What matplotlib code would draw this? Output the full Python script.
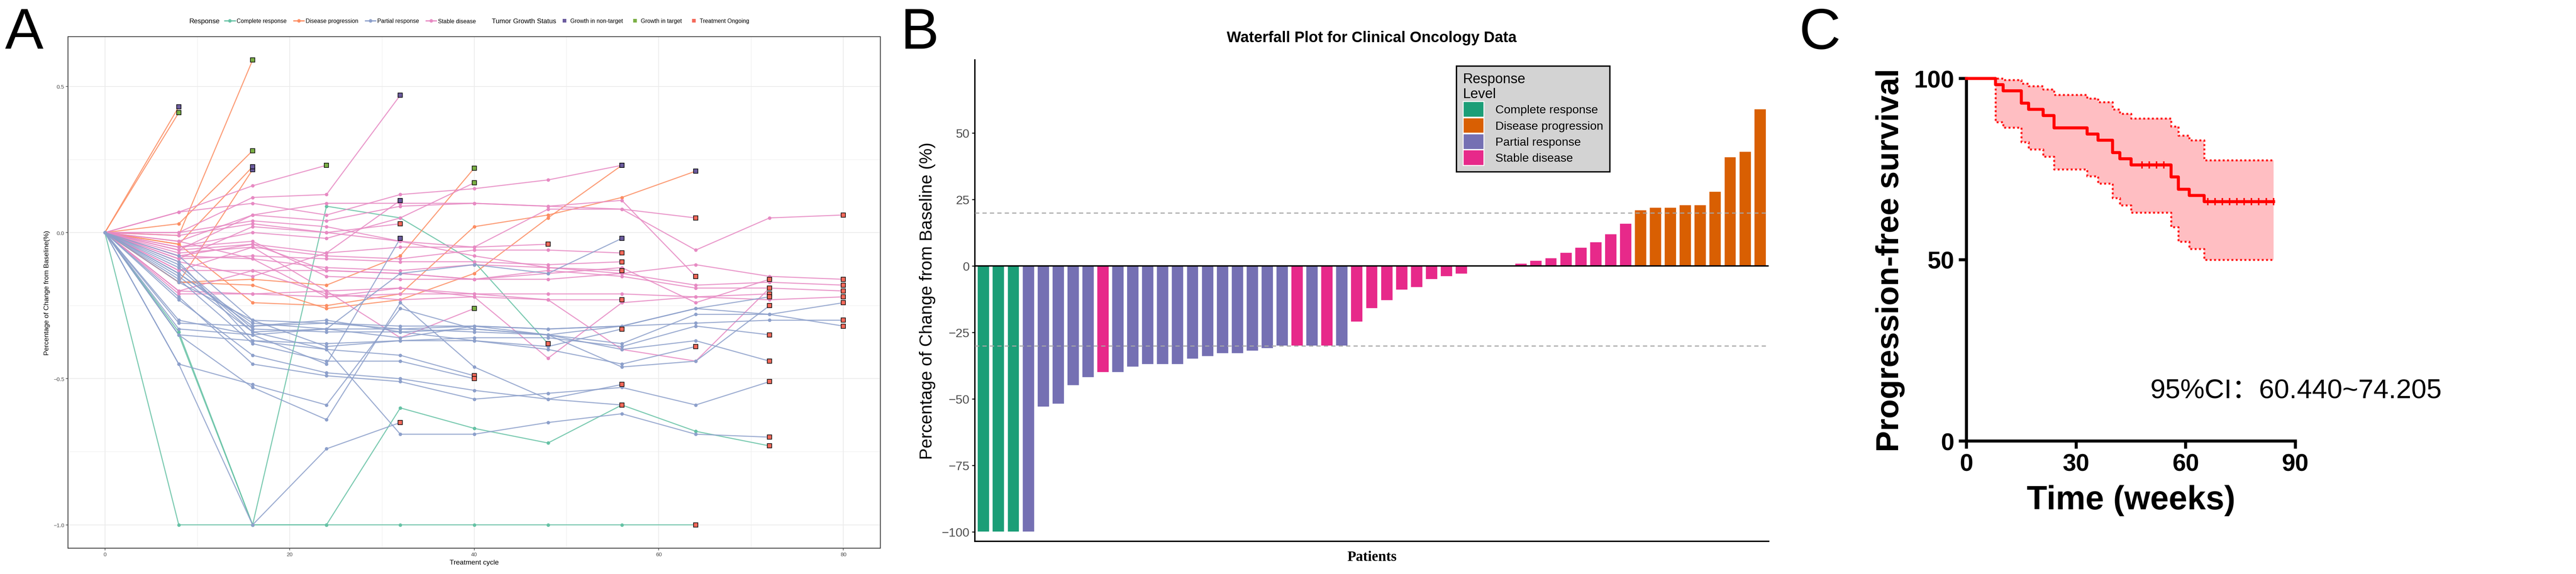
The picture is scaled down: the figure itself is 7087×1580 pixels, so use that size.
import matplotlib.pyplot as plt
from matplotlib.lines import Line2D
from matplotlib.patches import Patch
import numpy as np

plt.rcParams['font.family'] = ['Liberation Sans', 'DejaVu Sans']

# ---------------- Panel A: spider plot data ----------------
cycle_step = 8  # weeks between assessments
spider_response = ['CR', 'CR', 'CR',
                   'PD', 'PD', 'PD', 'PD', 'PD', 'PD', 'PD', 'PD', 'PD',
                   'SD', 'SD', 'SD', 'SD', 'SD', 'SD', 'SD', 'SD', 'SD', 'SD', 'SD',
                   'SD', 'SD', 'SD', 'SD', 'SD', 'SD', 'SD', 'SD', 'SD', 'SD', 'SD',
                   'PR', 'PR', 'PR', 'PR', 'PR', 'PR', 'PR', 'PR', 'PR', 'PR', 'PR',
                   'PR', 'PR', 'PR', 'PR', 'PR', 'PR', 'PR']
spider_status = ['TO', 'TO', 'TO',
                 'NT', 'T', 'T', 'T', 'NT', 'NT', 'T', 'NT', 'NT',
                 'NT', 'T', 'NT', 'TO', 'T', 'T', 'TO', 'NT', 'TO', 'TO', 'TO',
                 'TO', 'TO', 'TO', 'TO', 'TO', 'TO', 'TO', 'TO', 'TO', 'TO', 'TO',
                 'TO', 'TO', 'TO', 'TO', 'TO', 'TO', 'NT', 'NT', 'TO', 'TO', 'TO',
                 'TO', 'TO', 'TO', 'TO', 'TO', 'TO', 'TO']
spider_values = [
    [0, -1.0, -1.0, -1.0, -1.0, -1.0, -1.0, -1.0, -1.0],
    [0, -0.35, -1.0, 0.09, 0.05, -0.10, -0.38],
    [0, -0.34, -1.0, -1.0, -0.60, -0.67, -0.72, -0.59, -0.68, -0.73],
    [0, 0.43],
    [0, 0.41],
    [0, -0.01, 0.59],
    [0, 0.03, 0.28],
    [0, -0.17, 0.215],
    [0, -0.04, 0.225],
    [0, -0.17, -0.16, -0.18, -0.08, 0.22],
    [0, -0.04, -0.24, -0.25, -0.21, 0.02, 0.06, 0.12, 0.21],
    [0, -0.17, -0.18, -0.26, -0.23, -0.14, 0.05, 0.23],
    [0, 0.0, 0.12, 0.13, 0.47],
    [0, 0.07, 0.16, 0.23],
    [0, -0.10, -0.15, -0.07, 0.11],
    [0, -0.01, 0.03, 0.0, 0.03],
    [0, -0.05, 0.0, -0.02, 0.05, 0.17],
    [0, -0.13, -0.05, -0.20, -0.36, -0.26],
    [0, -0.06, -0.04, -0.07, -0.05, -0.05, -0.04],
    [0, 0.07, 0.10, 0.06, 0.13, 0.15, 0.18, 0.23],
    [0, -0.03, 0.06, 0.04, 0.09, 0.10, 0.09, 0.08, -0.06, 0.05, 0.06],
    [0, 0.0, 0.04, 0.02, -0.03, -0.05, 0.08, 0.08, 0.05],
    [0, -0.06, 0.06, 0.10, 0.10, 0.10, 0.09, 0.11, -0.15],
    [0, -0.07, -0.05, -0.08, -0.09, -0.06, -0.06, -0.07],
    [0, -0.09, -0.08, -0.09, -0.10, -0.10, -0.11, -0.10],
    [0, -0.03, -0.09, -0.12, -0.13, -0.11, -0.12, -0.13],
    [0, -0.13, -0.13, -0.13, -0.14, -0.16, -0.16, -0.14, -0.11, -0.15, -0.16],
    [0, -0.20, -0.21, -0.20, -0.19, -0.21, -0.21, -0.21, -0.22, -0.23, -0.22],
    [0, -0.21, -0.21, -0.22, -0.19, -0.22, -0.23, -0.23],
    [0, -0.09, 0.02, 0.0, -0.03, -0.08, -0.12, -0.14, -0.18, -0.17, -0.18],
    [0, -0.08, -0.04, -0.13, -0.14, -0.16, -0.13, -0.15, -0.19, -0.19, -0.20],
    [0, -0.20, -0.13, -0.21, -0.23, -0.22, -0.43, -0.24, -0.22, -0.21],
    [0, -0.08, -0.09, -0.22, -0.21, -0.21, -0.23, -0.40, -0.44, -0.19],
    [0, -0.05, -0.03, -0.15, -0.16, -0.16, -0.14, -0.12, -0.24, -0.16],
    [0, -0.45, -1.0, -0.74, -0.65],
    [0, -0.45, -0.52, -0.59, -0.26, -0.33, -0.35, -0.32, -0.26, -0.28, -0.24],
    [0, -0.35, -0.53, -0.64, -0.24, -0.46, -0.57, -0.52],
    [0, -0.31, -0.32, -0.31, -0.32, -0.32, -0.33, -0.32, -0.31, -0.30, -0.30],
    [0, -0.33, -0.35, -0.33, -0.33, -0.34, -0.35, -0.38, -0.28, -0.28, -0.32],
    [0, -0.35, -0.37, -0.38, -0.37, -0.36, -0.36, -0.39, -0.32, -0.35],
    [0, -0.30, -0.35, -0.45, -0.02],
    [0, -0.14, -0.31, -0.33, -0.14, -0.11, -0.14, -0.02],
    [0, -0.15, -0.34, -0.40, -0.42, -0.49],
    [0, -0.16, -0.38, -0.44, -0.44, -0.50],
    [0, -0.17, -0.30, -0.39, -0.37, -0.37, -0.39, -0.33],
    [0, -0.23, -0.42, -0.48, -0.50, -0.54, -0.57, -0.59],
    [0, -0.22, -0.45, -0.49, -0.51, -0.57, -0.55, -0.53, -0.59, -0.51],
    [0, -0.11, -0.33, -0.34, -0.34, -0.33, -0.35, -0.40, -0.37, -0.44],
    [0, -0.10, -0.37, -0.40, -0.69, -0.69, -0.65, -0.62, -0.69, -0.70],
    [0, -0.14, -0.32, -0.30, -0.34, -0.37, -0.40, -0.45, -0.39],
    [0, -0.08, -0.30, -0.31, -0.33, -0.32, -0.35, -0.46, -0.44, -0.25],
    [0, -0.12, -0.34, -0.33, -0.36, -0.32, -0.33, -0.32, -0.26, -0.22],
]

# ---------------- Panel B: waterfall data ----------------
wf_values = [-100, -100, -100, -100, -53, -52, -45, -42, -40, -40,
             -38, -37, -37, -37, -35, -34, -33, -33, -32, -31,
             -30, -30, -30, -30, -30, -21, -16, -13, -9, -8,
             -5, -4, -3, 0, 0, 0, 1, 2, 3, 5,
             7, 9, 12, 16, 21, 22, 22, 23, 23, 28,
             41, 43, 59]
wf_response = ['CR'] * 3 + ['PR'] * 5 + ['SD'] + ['PR'] * 12 + ['SD', 'PR', 'SD', 'PR'] + ['SD'] * 19 + ['PD'] * 9

# ---------------- Panel C: Kaplan-Meier data ----------------
km_time = [0, 8, 10, 15, 17, 21, 24, 33, 36, 40, 42, 45, 56, 58, 61, 65, 84]
km_surv = [100, 98.3, 96.6, 93.2, 91.5, 89.8, 86.4, 84.7, 83.0, 79.6, 77.9, 76.2, 72.8, 69.4, 67.7, 66.0, 66.0]
km_upper = [100, 100, 99.6, 98.6, 97.9, 97.0, 95.5, 94.5, 93.5, 91.5, 90.3, 89.0, 86.8, 84.3, 83.0, 77.5, 77.5]
km_lower = [100, 88.0, 86.5, 82.5, 80.5, 78.5, 75.0, 73.0, 71.0, 67.0, 65.0, 63.0, 59.0, 55.0, 53.0, 50.0, 50.0]
censor_time = [48, 50, 52, 54, 66, 68, 70, 72, 74, 76, 78, 80, 82, 84]
censor_surv = [76.2] * 4 + [66.0] * 10

resp_labels = {'CR': 'Complete response', 'PD': 'Disease progression',
               'PR': 'Partial response', 'SD': 'Stable disease'}
resp_order = ['CR', 'PD', 'PR', 'SD']
set2 = {'CR': '#66C2A5', 'PD': '#FC8D62', 'PR': '#8DA0CB', 'SD': '#E78AC3'}
dark2 = {'CR': '#1B9E77', 'PD': '#D95F02', 'PR': '#7570B3', 'SD': '#E7298A'}
status_labels = {'NT': 'Growth in non-target', 'T': 'Growth in target', 'TO': 'Treatment Ongoing'}
status_col = {'NT': '#6B5B9E', 'T': '#7BAF45', 'TO': '#F4695A'}

W, H = 7087, 1581
fig = plt.figure(figsize=(W / 300, H / 300), dpi=300)


def rect(left, top, right, bottom):
    return [left / W, 1 - bottom / H, (right - left) / W, (bottom - top) / H]


# ================= Panel A =================
axA = fig.add_axes(rect(187, 102, 2422, 1510))
for resp, vals, status in zip(spider_response, spider_values, spider_status):
    t = np.arange(len(vals)) * cycle_step
    axA.plot(t, vals, color=set2[resp], lw=0.7, alpha=0.85, zorder=2)
    axA.plot(t, vals, 'o', ms=2.3, color=set2[resp], mec='none', zorder=3)
    axA.plot(t[-1], vals[-1], 's', ms=2.8, mfc=status_col[status], mec='black', mew=0.4, zorder=4)

axA.set_xlim(-4, 84)
axA.set_ylim(-1.08, 0.67)
axA.set_xticks([0, 20, 40, 60, 80])
axA.set_xticks([10, 30, 50, 70], minor=True)
axA.set_yticks([-1.0, -0.5, 0.0, 0.5])
axA.set_yticklabels(['\u22121.0', '\u22120.5', '0.0', '0.5'])
axA.set_yticks([-0.75, -0.25, 0.25], minor=True)
axA.grid(which='major', color='#EBEBEB', lw=0.5)
axA.grid(which='minor', color='#EBEBEB', lw=0.25)
axA.set_axisbelow(True)
axA.tick_params(which='major', labelsize=3.6, colors='#4D4D4D', length=1.5, width=0.4, pad=1)
axA.tick_params(which='minor', length=0)
for s in axA.spines.values():
    s.set_color('#333333')
    s.set_linewidth(0.5)
axA.set_xlabel('Treatment cycle', fontsize=4.6, labelpad=1.5)
axA.set_ylabel('Percentage of Change from Baseline(%)', fontsize=4.6, labelpad=2)

# legend of panel A (top, horizontal)
fig.text(520 / W, 1 - 59 / H, 'Response', fontsize=4.5, va='center', ha='left')
resp_handles = [Line2D([], [], color=set2[r], lw=0.8, marker='o', ms=2.3, mec='none') for r in resp_order]
legA1 = fig.legend(resp_handles, [resp_labels[r] for r in resp_order], loc='center left',
                   bbox_to_anchor=(618 / W, 1 - 59 / H), ncol=4, frameon=False, fontsize=3.8,
                   handlelength=1.8, handletextpad=0.3, columnspacing=1.2, borderpad=0, borderaxespad=0)
fig.text(1353 / W, 1 - 59 / H, 'Tumor Growth Status', fontsize=4.5, va='center', ha='left')
stat_handles = [Line2D([], [], ls='none', marker='s', ms=2.6, color=status_col[s], mec='none') for s in ['NT', 'T', 'TO']]
legA2 = fig.legend(stat_handles, [status_labels[s] for s in ['NT', 'T', 'TO']], loc='center left',
                   bbox_to_anchor=(1545 / W, 1 - 59 / H), ncol=3, frameon=False, fontsize=3.8,
                   handlelength=1.0, handletextpad=0.5, columnspacing=1.6, borderpad=0, borderaxespad=0)

# ================= Panel B =================
axB = fig.add_axes(rect(2682, 166, 4866, 1491))
xb = np.arange(1, len(wf_values) + 1)
axB.bar(xb, wf_values, width=0.8, color=[dark2[r] for r in wf_response], edgecolor='white', lw=0.4, zorder=2)
axB.axhline(0, color='black', lw=0.9, zorder=3)
axB.axhline(20, color='#A6A6A6', lw=0.7, ls=(0, (4, 3)), zorder=4)
axB.axhline(-30, color='#A6A6A6', lw=0.7, ls=(0, (4, 3)), zorder=4)
axB.set_xlim(0.42, len(wf_values) + 0.58)
axB.set_ylim(-103.6, 77.5)
axB.set_xticks([])
axB.set_yticks([-100, -75, -50, -25, 0, 25, 50])
axB.set_yticklabels(['\u2212100', '\u221275', '\u221250', '\u221225', '0', '25', '50'])
axB.tick_params(axis='y', labelsize=8.2, colors='#4D4D4D', length=2, width=0.6, pad=1.5)
axB.tick_params(axis='y', color='black')
for side in ['top', 'right']:
    axB.spines[side].set_visible(False)
for side in ['left', 'bottom']:
    axB.spines[side].set_linewidth(0.9)
axB.set_ylabel('Percentage of Change from Baseline (%)', fontsize=11.5, labelpad=4)
axB.set_xlabel('Patients', fontsize=9.5, fontweight='bold', family='Liberation Serif', labelpad=6)
axB.set_title('Waterfall Plot for Clinical Oncology Data', fontsize=10, fontweight='bold', pad=12)
legB_handles = [Patch(facecolor=dark2[r], edgecolor='white', lw=0.6) for r in resp_order]
legB = axB.legend(legB_handles, [resp_labels[r] for r in resp_order], title='Response\nLevel',
                  loc='upper left', bbox_to_anchor=((4007 - 2682) / 2184, 1 - (183 - 166) / 1325),
                  fontsize=7.8, title_fontsize=9.2, frameon=True, fancybox=False,
                  facecolor='#D3D3D3', edgecolor='black', framealpha=1,
                  handlelength=1.75, handleheight=1.65, handletextpad=1.0, labelspacing=0.05,
                  borderpad=0.55, borderaxespad=0)
legB.get_frame().set_linewidth(0.9)
legB._legend_box.align = 'left'

# ================= Panel C =================
axC = fig.add_axes(rect(5410, 217, 6315, 1215))
axC.fill_between(km_time, km_lower, km_upper, step='post', color='#FFB3B8', alpha=0.85, lw=0, zorder=1)
axC.step(km_time, km_upper, where='post', color='#FF1A1A', lw=1.3, ls=(0, (1, 1.2)), zorder=2, clip_on=False)
axC.step(km_time, km_lower, where='post', color='#FF1A1A', lw=1.3, ls=(0, (1, 1.2)), zorder=2, clip_on=False)
axC.step(km_time, km_surv, where='post', color='#FF0000', lw=2.0, zorder=3, clip_on=False)
axC.plot(censor_time, censor_surv, ls='none', marker='|', ms=5, mew=1.0, color='#FF0000', zorder=3)
axC.set_xlim(0, 90)
axC.set_ylim(0, 100)
axC.set_xticks([0, 30, 60, 90])
axC.set_yticks([0, 50, 100])
for side in ['top', 'right']:
    axC.spines[side].set_visible(False)
for side in ['left', 'bottom']:
    axC.spines[side].set_linewidth(2.0)
axC.tick_params(labelsize=16, length=5, width=2.0, pad=3)
for lab in axC.get_xticklabels() + axC.get_yticklabels():
    lab.set_fontweight('bold')
axC.set_xlabel('Time (weeks)', fontsize=22, fontweight='bold', labelpad=6)
axC.set_ylabel('Progression-free survival', fontsize=21, fontweight='bold', labelpad=6)
axC.text(6317 / W, 1 - 1076 / H, '95%CI\uff1a60.440~74.205', transform=fig.transFigure,
         fontsize=18, ha='center', va='center', family=['Liberation Sans', 'Noto Sans CJK SC'])

# panel letters
fig.text(14 / W, 1 - 20 / H, 'A', fontsize=38, va='top', ha='left')
fig.text(2478 / W, 1 - 20 / H, 'B', fontsize=38, va='top', ha='left')
fig.text(4950 / W, 1 - 20 / H, 'C', fontsize=38, va='top', ha='left')

fig.savefig('out.png', dpi=300)
